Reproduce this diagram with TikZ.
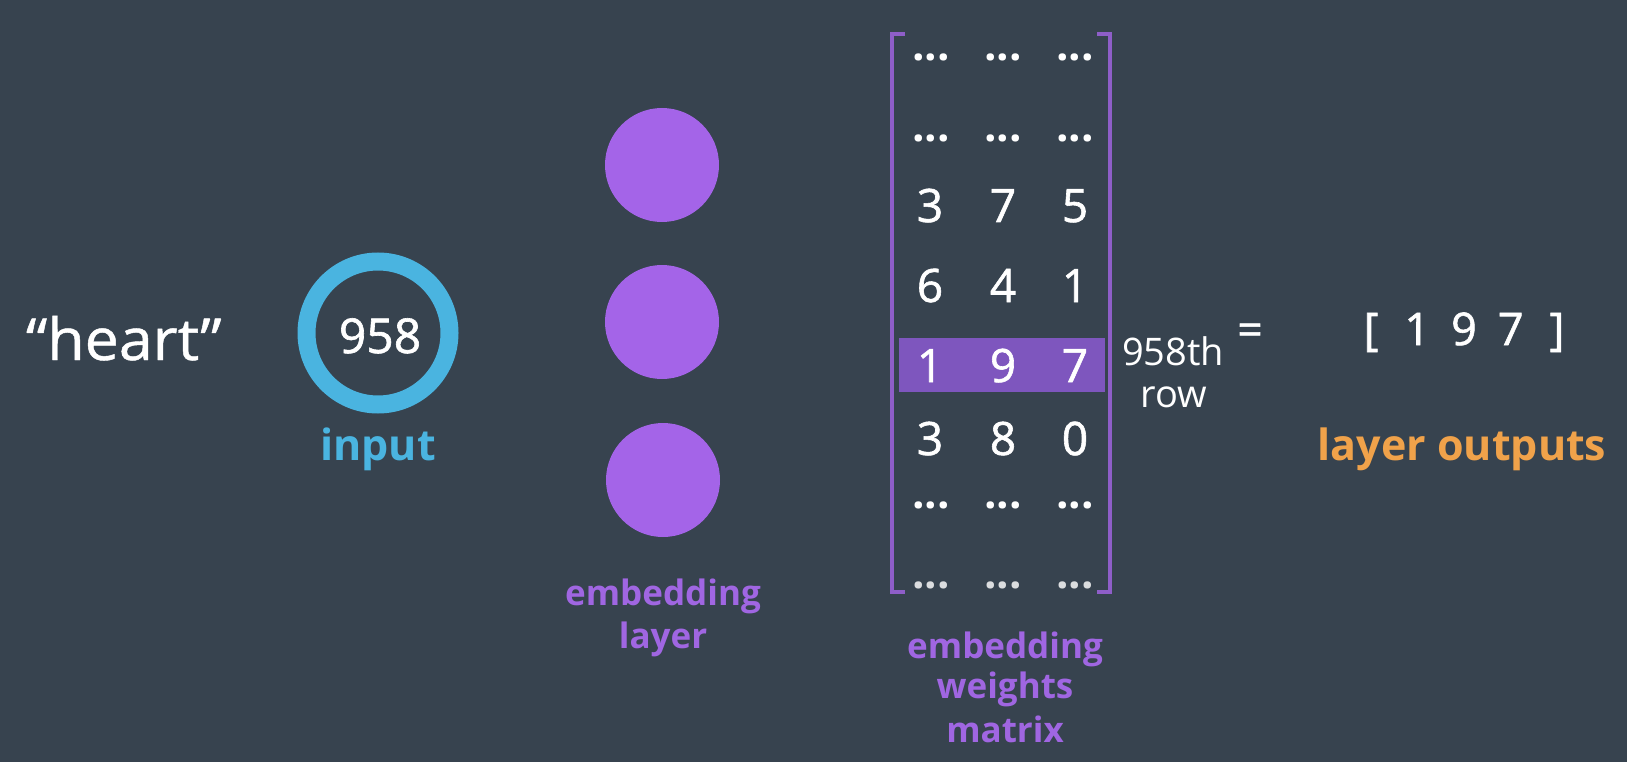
\documentclass[tikz,border=0pt]{standalone}
\usepackage{fontspec}
\setmainfont{Open Sans}
\newfontfamily\semib[FakeBold=1.3]{Open Sans}
\newfontfamily\wordfont[FakeBold=0.8,FakeStretch=1.05]{Open Sans}
\definecolor{bg}{RGB}{55,67,79}
\definecolor{ringc}{RGB}{74,180,224}
\definecolor{neuron}{RGB}{164,100,232}
\definecolor{lblpurple}{RGB}{160,102,226}
\definecolor{brk}{RGB}{142,94,200}
\definecolor{hl}{RGB}{126,86,190}
\definecolor{outc}{RGB}{240,162,74}
\tikzset{
  txt/.style={inner sep=0pt, outer sep=0pt, anchor=base, text=white},
  cell/.style={txt, font=\fontsize{46}{46}\semib},
  dotcell/.style={txt, font=\fontsize{44}{44}\selectfont\bfseries},
  lbl/.style={txt, text=lblpurple, font=\fontsize{35}{42}\selectfont\bfseries},
  neuronc/.style={circle, fill=neuron, minimum size=114pt, inner sep=0pt},
  bracket/.style={draw=brk, line width=4pt},
}
\begin{document}
\begin{tikzpicture}[x=1pt,y=-1pt]
\fill[bg] (0,0) rectangle (1627,762);
\useasboundingbox (0,0) rectangle (1627,762);

% word and input
\node[txt, anchor=base west, font=\fontsize{58}{58}\wordfont] (word) at (26,360) {“heart”};
\node[circle, draw=ringc, line width=18pt, minimum size=143pt, inner sep=0pt] (ring) at (378,333) {};
\node[txt, font=\fontsize{48}{48}\semib] (num) at (380,353) {958};
\node[txt, text=ringc, font=\fontsize{43}{43}\selectfont\bfseries] (inlbl) at (378,460) {input};

% embedding layer
\node[neuronc] (n1) at (662,165) {};
\node[neuronc] (n2) at (662,322) {};
\node[neuronc] (n3) at (663,480) {};
\node[lbl] (el1) at (663,605) {embedding};
\node[lbl] (el2) at (663,648) {layer};

% matrix
\fill[hl] (899,338) rectangle (1105,392);
\draw[bracket] (905,34) -- (892,34) -- (892,592) -- (905,592);
\draw[bracket] (1097,34) -- (1110,34) -- (1110,592) -- (1097,592);

\node[dotcell] (r1a) at (931,61) {...};
\node[dotcell] (r1b) at (1003,61) {...};
\node[dotcell] (r1c) at (1075,61) {...};
\node[dotcell] (r2a) at (931,142) {...};
\node[dotcell] (r2b) at (1003,142) {...};
\node[dotcell] (r2c) at (1075,142) {...};
\node[cell] (r3a) at (930,222) {3};
\node[cell] (r3b) at (1003,222) {7};
\node[cell] (r3c) at (1075,222) {5};
\node[cell] (r4a) at (930,302) {6};
\node[cell] (r4b) at (1003,302) {4};
\node[cell] (r4c) at (1075,302) {1};
\node[cell] (r5a) at (930,382) {1};
\node[cell] (r5b) at (1003,382) {9};
\node[cell] (r5c) at (1075,382) {7};
\node[cell] (r6a) at (930,455) {3};
\node[cell] (r6b) at (1003,455) {8};
\node[cell] (r6c) at (1075,455) {0};
\node[dotcell] (r7a) at (931,508) {...};
\node[dotcell] (r7b) at (1003,508) {...};
\node[dotcell] (r7c) at (1075,508) {...};
\node[dotcell, text=white!82!bg] (r8a) at (931,588) {...};
\node[dotcell, text=white!82!bg] (r8b) at (1003,588) {...};
\node[dotcell, text=white!82!bg] (r8c) at (1075,588) {...};

\node[lbl] (wm1) at (1005,658) {embedding};
\node[lbl] (wm2) at (1005,698) {weights};
\node[lbl] (wm3) at (1005,742) {matrix};

\node[txt, font=\fontsize{38}{38}\selectfont] (rowa) at (1173,365) {958th};
\node[txt, font=\fontsize{38}{38}\selectfont] (rowb) at (1174,407) {row};

% output
\node[txt, font=\fontsize{44}{44}\semib] (eq) at (1250,345) {=};
\node[txt, font=\fontsize{45}{45}\semib] (vec) at (1464,345) {[\hspace{26pt}1\hspace{21pt}9\hspace{21pt}7\hspace{26pt}]};
\node[txt, text=outc, font=\fontsize{43}{43}\selectfont\bfseries] (outlbl) at (1462,460) {layer outputs};
\end{tikzpicture}
\end{document}
